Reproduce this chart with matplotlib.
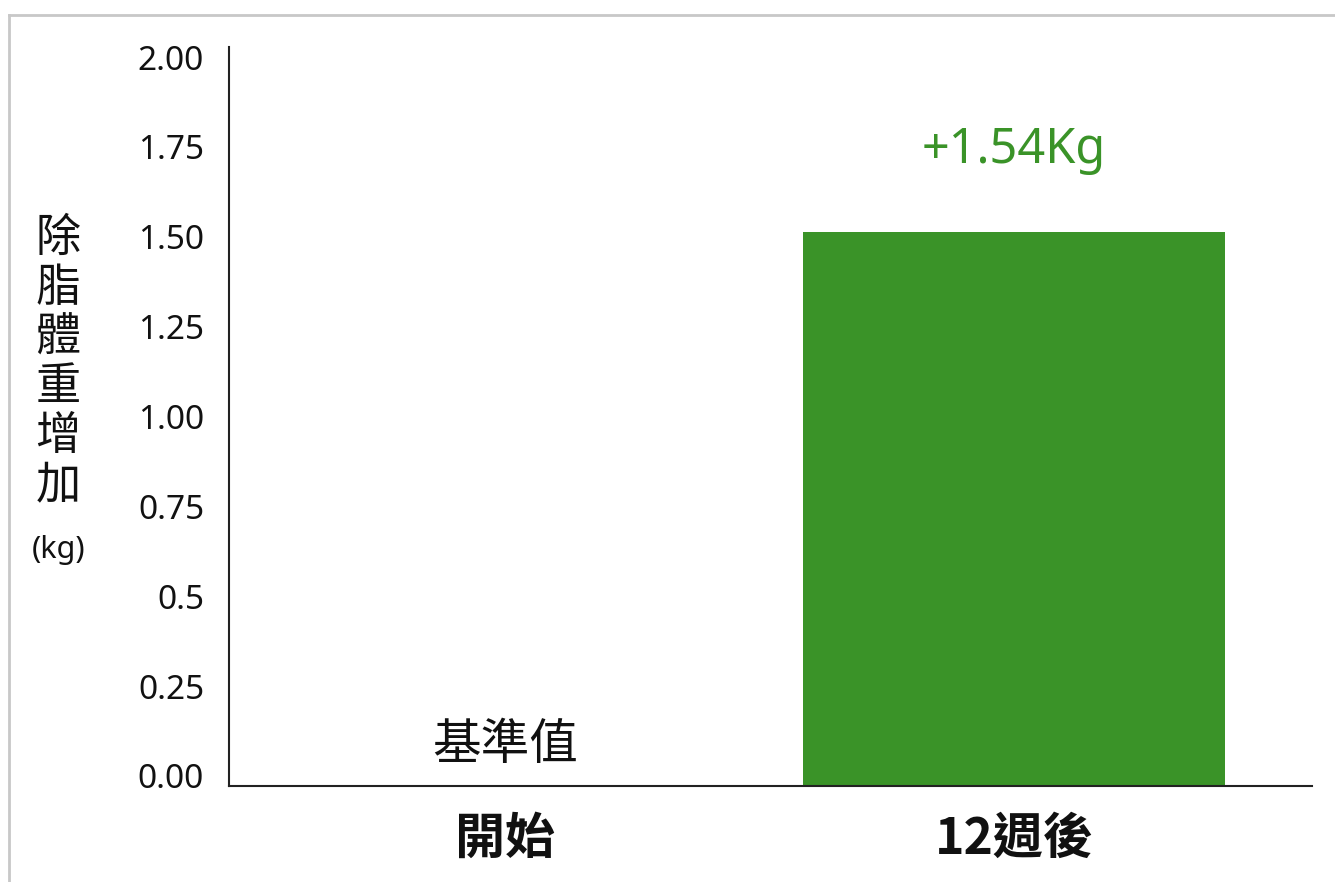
import matplotlib.pyplot as plt
import matplotlib.transforms as mtransforms
from matplotlib.lines import Line2D

plt.rcParams['font.family'] = ['Noto Sans CJK TC', 'Noto Sans', 'DejaVu Sans']

# Data
categories = ["開始", "12週後"]
gain_kg = [0.0, 1.54]
value_labels = ["基準值", "+1.54Kg"]
tick_values = [0.0, 0.25, 0.5, 0.75, 1.0, 1.25, 1.5, 1.75, 2.0]
tick_labels = ["0.00", "0.25", "0.5", "0.75", "1.00", "1.25", "1.50", "1.75", "2.00"]

green = "#3a9328"
ink = "#111111"
latin = ["Noto Sans", "DejaVu Sans"]

fig = plt.figure(figsize=(13.35, 8.82), dpi=100)
W, H = 1335, 882
ax = fig.add_axes([229 / W, 1 - 786 / H, (1312 - 229) / W, (786 - 47) / H])

x = list(range(len(categories)))
ax.bar(x[1], gain_kg[1], width=0.83, color=green, zorder=2)

ax.set_xlim(-0.542, 1.585)
ax.set_ylim(0, 2.056)

for s in ["top", "right"]:
    ax.spines[s].set_visible(False)
for s in ["left", "bottom"]:
    ax.spines[s].set_linewidth(1.5)
    ax.spines[s].set_color("#222222")

ax.set_yticks(tick_values)
ax.set_yticklabels(tick_labels, fontsize=24, family=latin, color=ink)
ax.tick_params(axis="y", length=0, pad=18)
shift = mtransforms.ScaledTranslation(0, 10 / 100, fig.dpi_scale_trans)
for lbl in ax.get_yticklabels():
    lbl.set_transform(lbl.get_transform() + shift)

ax.set_xticks(x)
ax.set_xticklabels(categories, fontsize=36, fontweight="bold", color=ink)
ax.tick_params(axis="x", length=0, pad=20)

# Value annotations
ax.text(x[0], 0.045, value_labels[0], ha="center", va="bottom",
        fontsize=35, color=ink)
ax.text(x[1], gain_kg[1] + 0.16, value_labels[1], ha="center", va="bottom",
        fontsize=35, color=green, family=latin)

# Vertical y-axis title
fig.text(58 / W, 1 - 362 / H, "除\n脂\n體\n重\n增\n加", ha="center", va="center",
         fontsize=32.5, linespacing=1.1, color=ink)
fig.text(59 / W, 1 - 550 / H, "(kg)", ha="center", va="center",
         fontsize=22, color=ink, family=latin)

# Thin frame on the top and left edges
fig.add_artist(Line2D([9 / W, 1], [1 - 15 / H, 1 - 15 / H], color="#c8c8c8",
                      linewidth=2, transform=fig.transFigure))
fig.add_artist(Line2D([9 / W, 9 / W], [0, 1 - 15 / H], color="#c8c8c8",
                      linewidth=2, transform=fig.transFigure))

fig.savefig("out.png", dpi=100)
